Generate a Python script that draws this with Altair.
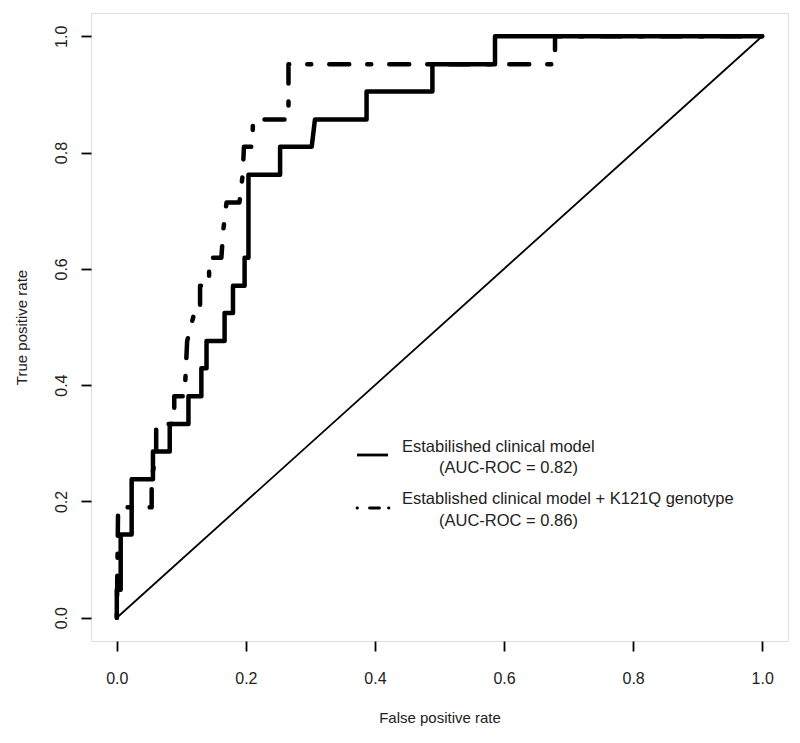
import altair as alt
import pandas as pd

# ---- data ----
solid_fpr = [0, 0, 0.006, 0.006, 0.023, 0.023, 0.056, 0.056, 0.082, 0.082, 0.111, 0.111,
             0.131, 0.131, 0.139, 0.139, 0.167, 0.167, 0.180, 0.180, 0.198, 0.198, 0.204, 0.204,
             0.253, 0.253, 0.302, 0.307, 0.387, 0.387, 0.489, 0.489, 0.586, 0.586, 1.0]
solid_tpr = [0, 0.048, 0.048, 0.143, 0.143, 0.238, 0.238, 0.286, 0.286, 0.333, 0.333, 0.381,
             0.381, 0.429, 0.429, 0.476, 0.476, 0.524, 0.524, 0.571, 0.571, 0.619, 0.619, 0.762,
             0.762, 0.810, 0.810, 0.857, 0.857, 0.905, 0.905, 0.952, 0.952, 1.0, 1.0]

dash_fpr = [0, 0.002, 0.054, 0.054, 0.061, 0.061, 0.089, 0.089, 0.105, 0.109, 0.120, 0.129,
            0.129, 0.143, 0.143, 0.162, 0.165, 0.170, 0.190, 0.195, 0.197, 0.210, 0.211, 0.266,
            0.266, 0.679, 0.679, 1.0]
dash_tpr = [0, 0.190, 0.190, 0.238, 0.286, 0.333, 0.333, 0.381, 0.381, 0.476, 0.524, 0.524,
            0.571, 0.571, 0.619, 0.619, 0.667, 0.714, 0.714, 0.762, 0.810, 0.810, 0.857, 0.857,
            0.952, 0.952, 1.0, 1.0]

diag_fpr = [0, 1]
diag_tpr = [0, 1]

tick_values = [0.0, 0.2, 0.4, 0.6, 0.8, 1.0]

legend_lines = [
    ["Estabilished clinical model", "(AUC-ROC = 0.82)"],
    ["Established clinical model + K121Q genotype", "(AUC-ROC = 0.86)"],
]

FONT = "Liberation Sans"
TXT = "#222222"


def curve(xs, ys):
    return pd.DataFrame({"fpr": xs, "tpr": ys, "i": list(range(len(xs)))})


scale = alt.Scale(domain=[-0.04, 1.04], nice=False, zero=False)

x_enc = alt.X("fpr:Q", scale=scale, axis=alt.Axis(
    values=tick_values, format=".1f", title="False positive rate", domain=False, grid=False,
    tickSize=10, tickWidth=1.8, tickColor="black", labelPadding=19, labelFontSize=16,
    labelFont=FONT, labelColor=TXT, labelFlush=False, labelOverlap=False,
    titleFont=FONT, titleFontSize=15, titleFontWeight="normal", titleColor=TXT, titlePadding=24))
y_enc = alt.Y("tpr:Q", scale=scale, axis=alt.Axis(
    values=tick_values, format=".1f", title="True positive rate", domain=False, grid=False,
    tickSize=10, tickWidth=1.8, tickColor="black", labelPadding=12, labelFontSize=16,
    labelFont=FONT, labelColor=TXT, labelAngle=270, labelAlign="center", labelBaseline="bottom",
    labelFlush=False, labelOverlap=False,
    titleFont=FONT, titleFontSize=15, titleFontWeight="normal", titleColor=TXT, titlePadding=24))
order = alt.Order("i:Q")

diag = alt.Chart(curve(diag_fpr, diag_tpr)).mark_line(color="black", strokeWidth=1.8).encode(
    x=x_enc, y=y_enc, order=order)

solid = alt.Chart(curve(solid_fpr, solid_tpr)).mark_line(
    color="black", strokeWidth=4.5, strokeJoin="round", strokeCap="round").encode(
    x=x_enc, y=y_enc, order=order)

dashed = alt.Chart(curve(dash_fpr, dash_tpr)).mark_line(
    color="black", strokeWidth=4.5, strokeJoin="round", strokeCap="round",
    strokeDash=[4, 18, 20, 18]).encode(x=x_enc, y=y_enc, order=order)

one = pd.DataFrame({"k": [0]})
leg_solid = alt.Chart(one).mark_rule(color="black", strokeWidth=2.8).encode(
    x=alt.value(266), x2=alt.value(297), y=alt.value(442))
leg_dash = alt.Chart(one).mark_rule(color="black", strokeWidth=2.8, strokeCap="round",
                                    strokeDash=[0.5, 12, 10, 9]).encode(
    x=alt.value(266), x2=alt.value(298), y=alt.value(495))

texts = []
positions = [[(311, 434), (348, 455)], [(311, 486), (348, 508)]]
for entry, pos in zip(legend_lines, positions):
    for line, (px, py) in zip(entry, pos):
        texts.append(alt.Chart(pd.DataFrame({"t": [line]})).mark_text(
            align="left", baseline="middle", font=FONT, fontSize=16.5, color=TXT).encode(
            x=alt.value(px), y=alt.value(py), text="t:N"))

chart = alt.layer(diag, solid, dashed, leg_solid, leg_dash, *texts).properties(
    width=697, height=628,
    autosize=alt.AutoSizeParams(type="none"),
    padding={"left": 83, "top": 5, "right": 4, "bottom": 86},
).configure_view(stroke="black", strokeWidth=1.8).configure(background="white")

chart.save("out.html", embed_options={"renderer": "svg", "actions": False})
